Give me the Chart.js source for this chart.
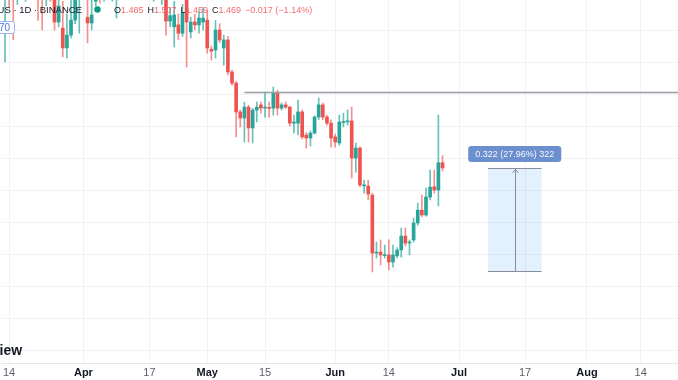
<!DOCTYPE html>
<html>
<head>
<meta charset="utf-8">
<script src="https://cdn.jsdelivr.net/npm/chart.js@4/dist/chart.umd.min.js"></script>
<style>
html,body{margin:0;padding:0;background:#ffffff;}
#wrap{width:678px;height:380px;position:relative;overflow:hidden;}
</style>
</head>
<body>
<div id="wrap"><canvas id="c"></canvas></div>
<script>
// Daily candles, index 0 = Mar 13
const opens = [2.00,2.06,2.05,2.00,2.07,2.04,2.08,2.05,2.09,2.07,2.02,2.06,2.05,1.925,1.906,1.844,1.884,1.931,2.01,2.05,
1.94,1.922,1.99,2.04,2.01,2.06,2.03,2.01,2.05,2.10,2.06,2.11,2.07,2.09,2.04,2.08,2.05,2.09,2.03,2.04,
1.928,1.91,1.916,1.89,2.01,1.894,1.925,1.916,1.925,1.931,1.84,1.8375,1.90,1.844,1.869,1.769,1.734,1.644,1.625,1.659,
1.594,1.65,1.666,1.656,1.658,1.656,1.703,1.656,1.666,1.659,1.609,1.609,1.644,1.572,1.5625,1.578,1.628,1.666,1.628,1.609,
1.566,1.547,1.611,1.613,1.616,1.50,1.531,1.413,1.4125,1.384,1.203,1.206,1.195,1.197,1.175,1.194,1.2125,1.256,1.2344,1.244,
1.297,1.337,1.322,1.378,1.41,1.40,1.485];
const highs = [2.10,2.12,2.08,2.09,2.12,2.10,2.13,2.11,2.12,2.10,2.08,2.10,2.08,2.02,1.99,1.95,2.00,2.05,2.08,2.12,
2.05,2.00,2.06,2.10,2.08,2.11,2.09,2.08,2.12,2.15,2.13,2.16,2.12,2.14,2.10,2.13,2.11,2.13,2.08,2.07,
1.97,1.99,1.95,1.98,2.03,1.94,1.95,1.96,1.97,1.96,1.85,1.93,1.92,1.884,1.88,1.775,1.74,1.65,1.675,1.665,
1.655,1.675,1.675,1.706,1.675,1.722,1.712,1.672,1.675,1.662,1.634,1.681,1.65,1.58,1.585,1.632,1.6875,1.672,1.633,1.619,
1.575,1.634,1.64,1.65,1.659,1.547,1.535,1.431,1.431,1.39,1.2375,1.244,1.228,1.244,1.228,1.22,1.281,1.281,1.244,1.3125,
1.359,1.384,1.406,1.4625,1.4625,1.634,1.507];
const lows = [1.80,1.97,1.87,1.98,2.00,1.99,2.02,2.00,1.93,1.90,1.975,1.99,1.90,1.91,1.816,1.8125,1.875,1.92,1.89,2.00,
1.86,1.90,1.975,1.985,1.99,2.00,1.99,1.9375,2.02,2.04,2.03,2.05,2.01,2.03,2.00,2.02,1.99,2.02,1.98,1.884,
1.91,1.847,1.87,1.88,1.784,1.875,1.90,1.89,1.90,1.828,1.806,1.8125,1.86,1.79,1.76,1.728,1.566,1.597,1.55,1.55,
1.547,1.6125,1.64,1.628,1.628,1.634,1.634,1.65,1.655,1.60,1.578,1.572,1.56,1.531,1.5375,1.575,1.62,1.62,1.603,1.534,
1.534,1.54,1.597,1.603,1.4375,1.456,1.41,1.39,1.369,1.144,1.1875,1.166,1.1875,1.15,1.159,1.1875,1.19,1.225,1.197,1.2375,
1.29,1.316,1.318,1.369,1.39,1.35,1.459];
const closes = [2.06,2.02,2.00,2.07,2.04,2.08,2.05,2.09,2.03,2.02,2.06,2.05,1.925,1.975,1.844,1.884,1.931,2.01,2.05,2.09,
1.922,1.947,2.04,2.01,2.06,2.03,2.07,2.05,2.10,2.06,2.11,2.07,2.09,2.04,2.08,2.05,2.09,2.03,2.04,1.928,
1.945,1.947,1.89,1.953,1.925,1.925,1.916,1.9375,1.9375,1.844,1.834,1.90,1.869,1.869,1.769,1.734,1.644,1.625,1.659,1.594,
1.65,1.659,1.656,1.658,1.655,1.703,1.656,1.666,1.659,1.609,1.6125,1.644,1.566,1.5625,1.578,1.628,1.666,1.628,1.609,1.5625,
1.55,1.6125,1.614,1.616,1.50,1.531,1.4156,1.4156,1.3875,1.203,1.206,1.197,1.197,1.175,1.197,1.2125,1.256,1.234,1.2375,1.297,
1.337,1.322,1.378,1.409,1.40,1.485,1.469];

const tickIndex  = [1, 19, 35, 49, 63, 80, 93, 110, 126, 141, 154];
const tickLabels = ['14','Apr','17','May','15','Jun','14','Jul','17','Aug','14'];
const yGridValues = [0.9,1.0,1.1,1.2,1.3,1.4,1.5,1.6,1.7,1.8,1.9];

const levelValue = 1.705, levelStart = 58, levelEnd = 170;
const measureStart = 117, measureEnd = 130, measureLow = 1.147, measureHigh = 1.469;
const measureText = '0.322 (27.96%) 322';

const legendSymbol = 'US · 1D · BINANCE';
const legendParts = [['O','1.485'],['H','1.507'],['L','1.459'],['C','1.469']];
const legendChange = '−0.017 (−1.14%)';
const priceTag = '70';
const logoText = 'iew';

const UP = '#26a69a', DOWN = '#ef5350';
const UP_W = 'rgba(38,166,154,0.7)', DOWN_W = 'rgba(239,83,80,0.65)';
const FONT = "'Liberation Sans', Arial, sans-serif";

const isUp = i => closes[i] >= opens[i];

const overlay = {
  id: 'overlay',
  beforeDatasetsDraw(chart) {
    const ctx = chart.ctx, xs = chart.scales.x, ys = chart.scales.y;
    const x1 = xs.getPixelForValue(measureStart), x2 = xs.getPixelForValue(measureEnd);
    const yT = ys.getPixelForValue(measureHigh), yB = ys.getPixelForValue(measureLow);
    ctx.save();
    ctx.fillStyle = 'rgba(33,150,243,0.13)';
    ctx.fillRect(x1, yT, x2 - x1, yB - yT);
    ctx.strokeStyle = '#8a8d96';
    ctx.lineWidth = 1;
    ctx.beginPath();
    ctx.moveTo(x1, Math.round(yT) + 0.5); ctx.lineTo(x2, Math.round(yT) + 0.5);
    ctx.moveTo(x1, Math.round(yB) + 0.5); ctx.lineTo(x2, Math.round(yB) + 0.5);
    const xc = Math.round((x1 + x2) / 2) + 0.5;
    ctx.moveTo(xc, yB); ctx.lineTo(xc, yT + 1);
    ctx.moveTo(xc - 3, yT + 5); ctx.lineTo(xc, yT + 1.5); ctx.lineTo(xc + 3, yT + 5);
    ctx.stroke();
    // label
    ctx.font = '9px ' + FONT;
    const tw = ctx.measureText(measureText).width;
    const lw = tw + 14, lh = 16;
    const lx = (x1 + x2) / 2 - lw / 2, ly = yT - 6 - lh;
    ctx.fillStyle = '#6c8fcf';
    ctx.beginPath();
    ctx.roundRect(lx, ly, lw, lh, 3);
    ctx.fill();
    ctx.fillStyle = '#f4f7fd';
    ctx.textAlign = 'center';
    ctx.textBaseline = 'middle';
    ctx.fillText(measureText, (x1 + x2) / 2, ly + lh / 2 + 0.5);
    ctx.restore();
  },
  afterDraw(chart) {
    const ctx = chart.ctx;
    ctx.save();
    // symbol legend
    ctx.textBaseline = 'middle';
    ctx.font = '9.5px ' + FONT;
    ctx.fillStyle = '#131722';
    ctx.textAlign = 'right';
    ctx.fillText(legendSymbol, 82, 10.5);
    ctx.textAlign = 'left';
    ctx.fillStyle = '#089981';
    ctx.beginPath(); ctx.arc(97.5, 9.5, 3.2, 0, Math.PI * 2); ctx.fill();
    ctx.font = '9px ' + FONT;
    let x = 114;
    legendParts.forEach(p => {
      ctx.fillStyle = '#131722';
      ctx.fillText(p[0], x, 10.5);
      x += ctx.measureText(p[0]).width;
      ctx.fillStyle = '#f26b6f';
      ctx.fillText(p[1], x, 10.5);
      x += ctx.measureText(p[1]).width + 4;
    });
    ctx.fillText(legendChange, x, 10.5);
    // price tag on left
    ctx.fillStyle = '#ffffff';
    ctx.strokeStyle = '#9db4f3';
    ctx.lineWidth = 1;
    ctx.beginPath(); ctx.roundRect(-6.5, 21.5, 21, 12, 2); ctx.fill(); ctx.stroke();
    ctx.fillStyle = '#4f74e8';
    ctx.font = '10px ' + FONT;
    ctx.textAlign = 'right';
    ctx.fillText(priceTag, 10, 28);
    // logo fragment
    ctx.textAlign = 'left';
    ctx.textBaseline = 'alphabetic';
    ctx.fillStyle = '#131722';
    ctx.font = 'bold 14px ' + FONT;
    ctx.fillText(logoText, -0.5, 355);
    ctx.restore();
  }
};

new Chart(document.getElementById('c'), {
  type: 'bar',
  data: {
    datasets: [
      {
        type: 'line',
        order: 0,
        data: [{x: levelStart, y: levelValue}, {x: levelEnd, y: levelValue}],
        borderColor: '#9a9da5',
        borderWidth: 1.5,
        pointRadius: 0,
        tension: 0
      },
      {
        order: 1,
        data: opens.map((o, i) => ({x: i, y: [o, closes[i]]})),
        backgroundColor: ctx => isUp(ctx.dataIndex) ? UP : DOWN,
        barThickness: 3,
        minBarLength: 1,
        grouped: false,
        borderWidth: 0
      },
      {
        order: 2,
        data: lows.map((l, i) => ({x: i, y: [l, highs[i]]})),
        backgroundColor: ctx => isUp(ctx.dataIndex) ? UP_W : DOWN_W,
        barThickness: 1,
        grouped: false,
        borderWidth: 0
      }
    ]
  },
  options: {
    responsive: true,
    maintainAspectRatio: false,
    animation: false,
    layout: {padding: 0},
    plugins: {legend: {display: false}, tooltip: {enabled: false}},
    scales: {
      x: {
        type: 'linear',
        offset: false,
        min: -0.725,
        max: 163.05,
        afterBuildTicks: s => { s.ticks = tickIndex.map(v => ({value: v})); },
        afterFit: s => { s.height = 17; },
        grid: {color: '#f0f2f5', offset: false, drawTicks: false},
        border: {display: true, color: '#e4e6ea'},
        ticks: {
          padding: 3,
          maxRotation: 0,
          autoSkip: false,
          callback: (v, idx) => tickLabels[idx],
          color: c => isNaN(+tickLabels[c.index]) ? '#131722' : '#5d606b',
          font: c => ({family: FONT, size: 11, lineHeight: 1.2, weight: isNaN(+tickLabels[c.index]) ? 'bold' : 'normal'})
        }
      },
      y: {
        type: 'linear',
        min: 0.8594,
        max: 1.9938,
        afterBuildTicks: s => { s.ticks = yGridValues.map(v => ({value: v})); },
        grid: {color: '#f0f2f5', drawTicks: false},
        border: {display: false},
        ticks: {display: false}
      }
    }
  },
  plugins: [overlay]
});
</script>
</body>
</html>
